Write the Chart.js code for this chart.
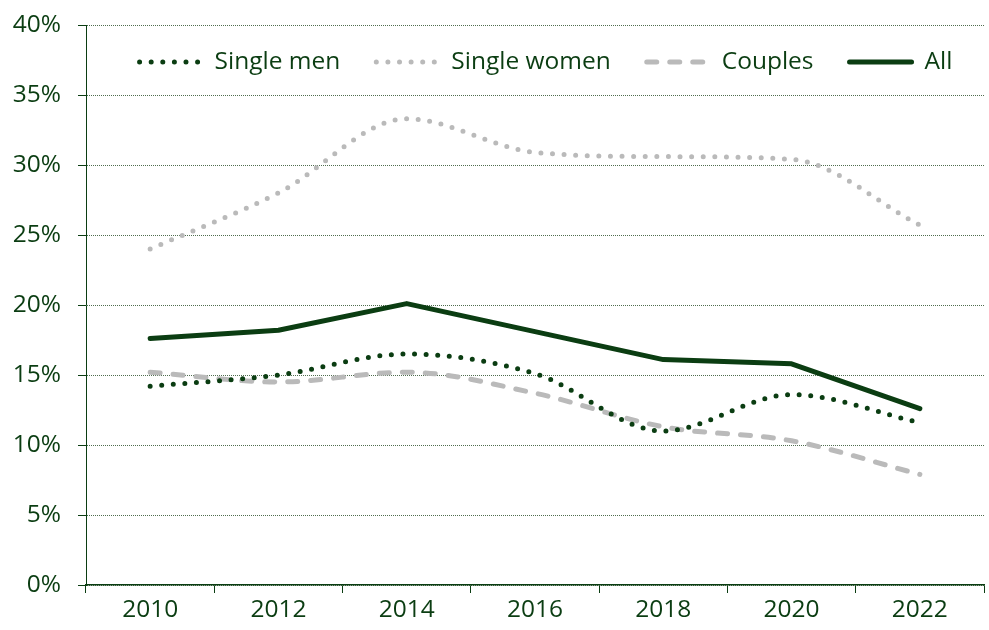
<!DOCTYPE html>
<html>
<head>
<meta charset="utf-8">
<script src="https://cdn.jsdelivr.net/npm/chart.js@4"></script>
<style>
  html, body { margin: 0; padding: 0; background: #fff; }
  #wrap { width: 989px; height: 630px; position: relative; }
</style>
</head>
<body>
<div id="wrap"><canvas id="chart"></canvas></div>
<script>
// share of households, per survey year
const years = ['2010', '2012', '2014', '2016', '2018', '2020', '2022'];
const singleMen = [14.2, 15.0, 16.5, 15.1, 11.0, 13.6, 11.6];
const singleWomen = [24.0, 28.0, 33.3, 30.9, 30.6, 30.4, 25.7];
const couples = [15.2, 14.5, 15.2, 13.7, 11.3, 10.3, 7.9];
const allHouseholds = [17.6, 18.2, 20.1, 18.1, 16.1, 15.8, 12.6];

const INK = '#0b3d12';
const GREY = '#bababa';
const GRID = '#4f6d4f';
const FONT = "'Open Sans', sans-serif";
const FONT_SIZE = 24.5;

Chart.defaults.font.family = FONT;
Chart.defaults.font.size = FONT_SIZE;
Chart.defaults.color = INK;

// one-row legend drawn inside the top of the plot area
const innerLegend = {
    id: 'innerLegend',
    afterDatasetsDraw(chart) {
        const { ctx, chartArea } = chart;
        const swatch = 64;
        const textGap = 13;
        const itemGap = 34;
        const y = chartArea.top + 37;

        ctx.save();
        ctx.font = `${FONT_SIZE}px ${FONT}`;
        const items = chart.data.datasets.map((ds) => ({ ds, w: ctx.measureText(ds.label).width }));
        const total = items.reduce((s, it) => s + swatch + textGap + it.w, 0) + itemGap * (items.length - 1);
        let x = (chartArea.left + chartArea.right) / 2 + 10 - total / 2;

        items.forEach(({ ds, w }) => {
            ctx.beginPath();
            ctx.strokeStyle = ds.borderColor;
            ctx.lineWidth = ds.borderWidth;
            ctx.lineCap = ds.borderCapStyle || 'butt';
            ctx.setLineDash(ds.borderDash || []);
            ctx.moveTo(x + 2, y);
            ctx.lineTo(x + swatch, y);
            ctx.stroke();

            ctx.setLineDash([]);
            ctx.fillStyle = INK;
            ctx.textBaseline = 'middle';
            ctx.textAlign = 'left';
            ctx.fillText(ds.label, x + swatch + textGap, y);
            x += swatch + textGap + w + itemGap;
        });
        ctx.restore();
    },
};

const smooth = (label, data, color, dash) => ({
    label,
    data,
    borderColor: color,
    backgroundColor: color,
    borderWidth: 5,
    borderDash: dash,
    borderCapStyle: 'round',
    cubicInterpolationMode: 'monotone',
    pointRadius: 0,
    fill: false,
});

new Chart(document.getElementById('chart'), {
    type: 'line',
    data: {
        labels: years,
        datasets: [
            smooth('Single men', singleMen, INK, [0, 11.6]),
            smooth('Single women', singleWomen, GREY, [0, 11.6]),
            smooth('Couples', couples, GREY, [10, 13]),
            {
                label: 'All',
                data: allHouseholds,
                borderColor: INK,
                backgroundColor: INK,
                borderWidth: 5,
                borderCapStyle: 'round',
                borderJoinStyle: 'round',
                tension: 0,
                pointRadius: 0,
                fill: false,
            },
        ],
    },
    plugins: [innerLegend],
    options: {
        responsive: true,
        maintainAspectRatio: false,
        animation: false,
        layout: { padding: { top: 25, right: 5, left: 0, bottom: 0 } },
        plugins: {
            tooltip: { enabled: false },
            legend: { display: false },
        },
        scales: {
            x: {
                offset: true,
                afterFit: (scale) => { scale.height = 45; },
                grid: {
                    offset: true,
                    drawOnChartArea: false,
                    tickLength: 8,
                    color: INK,
                },
                border: { color: INK, width: 1.5 },
                ticks: { color: INK, padding: 2, maxRotation: 0 },
            },
            y: {
                min: 0,
                max: 40,
                afterFit: (scale) => {
                    scale.width = 86;
                    scale.paddingTop = 0;
                    scale.paddingBottom = 0;
                },
                grid: {
                    color: GRID,
                    tickLength: 8,
                    tickColor: INK,
                },
                border: { color: INK, width: 1, dash: [1, 1] },
                ticks: {
                    stepSize: 5,
                    padding: 17,
                    color: INK,
                    callback: (v) => v + '%',
                },
            },
        },
    },
});
</script>
</body>
</html>
